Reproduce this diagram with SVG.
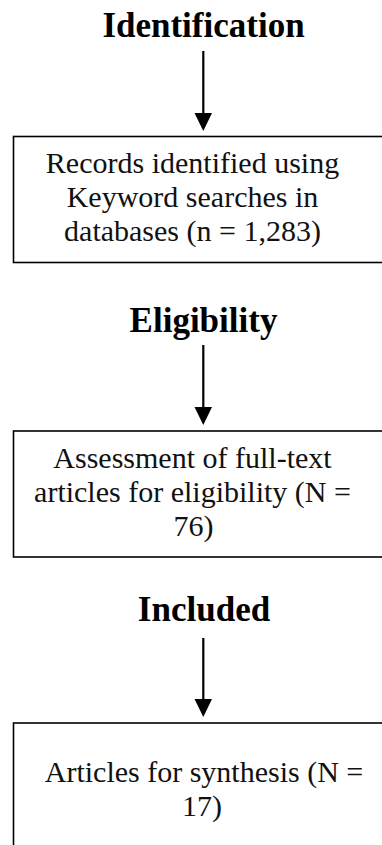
<svg xmlns="http://www.w3.org/2000/svg" width="382" height="845" viewBox="0 0 382 845">
<style>
.title{font-family:"Liberation Serif","Times New Roman",serif;font-weight:bold;font-size:35px;fill:#000;text-anchor:middle}
.body{font-family:"Liberation Serif","Times New Roman",serif;font-size:30px;fill:#111;text-anchor:middle}
.box{fill:#fff;stroke:#000;stroke-width:1.6}
.conn{stroke:#000;stroke-width:2.2;fill:none}
.head{fill:#000}
</style>
<rect width="382" height="845" fill="#fff"/>
<g id="titles">
<text class="title" x="203.5" y="37">Identification</text>
<text class="title" x="203.5" y="332">Eligibility</text>
<text class="title" x="204" y="621">Included</text>
</g>
<g id="connectors">
<path class="conn" d="M203.3,51 V113"/>
<path class="head" d="M194.5,113 L212,113 L203.3,131 Z"/>
<path class="conn" d="M203.3,345 V407"/>
<path class="head" d="M194.5,407 L212,407 L203.3,425 Z"/>
<path class="conn" d="M203.3,638 V699"/>
<path class="head" d="M194.5,699 L212,699 L203.3,717 Z"/>
</g>
<g id="node1">
<rect class="box" x="13.5" y="136.5" width="400" height="126"/>
<text class="body" x="192.5" y="173">Records identified using</text>
<text class="body" x="192.5" y="207">Keyword searches in</text>
<text class="body" x="192.5" y="241">databases (n = 1,283)</text>
</g>
<g id="node2">
<rect class="box" x="13.5" y="431" width="400" height="126"/>
<text class="body" x="192.5" y="468">Assessment of full-text</text>
<text class="body" x="192.5" y="502">articles for eligibility (N =</text>
<text class="body" x="193.5" y="536">76)</text>
</g>
<g id="node3">
<rect class="box" x="13.5" y="723" width="400" height="160"/>
<text class="body" x="204" y="782">Articles for synthesis (N =</text>
<text class="body" x="202" y="816">17)</text>
</g>
</svg>
